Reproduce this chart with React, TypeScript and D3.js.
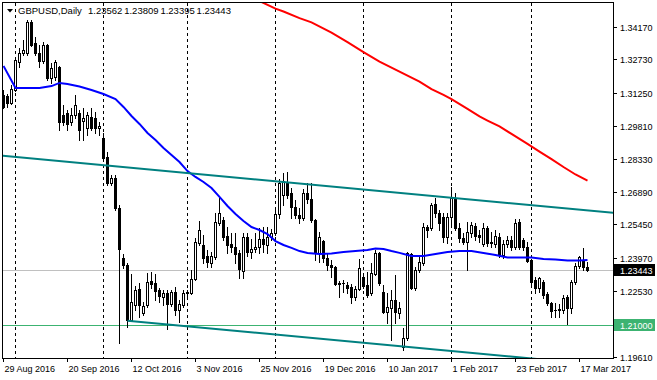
import React from "react";
import * as d3 from "d3";

const symbolTitle = "GBPUSD,Daily";
const headerValues = ["1.23562", "1.23809", "1.23395", "1.23443"];

// Daily OHLC bars, 29 Aug 2016 .. 21 Mar 2017 (147 bars)
const opens = [
  1.3116,1.3111,1.3080,1.3138,1.3261,1.3301,1.3301,1.3438,1.3345,1.3301,
  1.3266,1.3336,1.3191,1.3195,1.3239,1.3027,1.3036,1.2997,1.3027,1.3036,
  1.3001,1.2970,1.3019,1.3014,1.2968,1.2926,1.2842,1.2727,1.2749,1.2617,
  1.2396,1.2366,1.2123,1.2189,1.2260,1.2154,1.2189,1.2295,1.2286,1.2255,
  1.2224,1.2242,1.2193,1.2246,1.2167,1.2189,1.2246,1.2242,1.2304,1.2463,
  1.2454,1.2405,1.2374,1.2401,1.2551,1.2564,1.2494,1.2458,1.2445,1.2419,
  1.2339,1.2489,1.2423,1.2436,1.2445,1.2480,1.2454,1.2489,1.2507,1.2591,
  1.2674,1.2727,1.2683,1.2621,1.2586,1.2573,1.2683,1.2657,1.2564,1.2419,
  1.2471,1.2396,1.2366,1.2357,1.2286,1.2286,1.2277,1.2268,1.2224,1.2260,
  1.2313,1.2277,1.2242,1.2326,1.2419,1.2246,1.2158,1.2176,1.2211,1.2154,
  1.2004,1.2043,1.2414,1.2264,1.2344,1.2374,1.2533,1.2529,1.2635,1.2595,
  1.2577,1.2489,1.2577,1.2661,1.2529,1.2485,1.2467,1.2507,1.2538,1.2498,
  1.2458,1.2529,1.2467,1.2458,1.2489,1.2410,1.2458,1.2476,1.2445,1.2555,
  1.2476,1.2445,1.2388,1.2299,1.2264,1.2291,1.2238,1.2198,1.2169,1.2167,
  1.2167,1.2224,1.2176,1.2291,1.2361,1.2388,1.23562,
];
const highs = [
  1.3138,1.3120,1.3160,1.3283,1.3323,1.3358,1.3447,1.3447,1.3372,1.3336,
  1.3349,1.3341,1.3257,1.3270,1.3244,1.3072,1.3049,1.3058,1.3116,1.3049,
  1.3058,1.3041,1.3058,1.3041,1.2997,1.2948,1.2864,1.2763,1.2763,1.2630,
  1.2414,1.2374,1.2326,1.2273,1.2286,1.2202,1.2330,1.2335,1.2326,1.2264,
  1.2255,1.2255,1.2255,1.2268,1.2211,1.2255,1.2255,1.2344,1.2485,1.2560,
  1.2498,1.2432,1.2423,1.2595,1.2670,1.2577,1.2533,1.2507,1.2507,1.2432,
  1.2507,1.2507,1.2480,1.2507,1.2529,1.2533,1.2533,1.2524,1.2613,1.2745,
  1.2772,1.2776,1.2705,1.2652,1.2617,1.2701,1.2727,1.2727,1.2568,1.2511,
  1.2476,1.2419,1.2388,1.2361,1.2295,1.2299,1.2291,1.2282,1.2273,1.2392,
  1.2330,1.2335,1.2374,1.2432,1.2423,1.2277,1.2242,1.2255,1.2321,1.2202,
  1.2088,1.2423,1.2419,1.2357,1.2401,1.2551,1.2542,1.2639,1.2661,1.2608,
  1.2595,1.2595,1.2710,1.2683,1.2551,1.2507,1.2555,1.2555,1.2551,1.2520,
  1.2551,1.2538,1.2511,1.2520,1.2507,1.2476,1.2494,1.2494,1.2568,1.2568,
  1.2485,1.2467,1.2392,1.2313,1.2313,1.2299,1.2246,1.2202,1.2198,1.2193,
  1.2233,1.2233,1.2299,1.2374,1.2405,1.2441,1.23809,
];
const lows = [
  1.3058,1.3063,1.3076,1.3133,1.3239,1.3292,1.3292,1.3332,1.3292,1.3239,
  1.3257,1.3182,1.3169,1.3182,1.2961,1.2983,1.2961,1.2983,1.3014,1.2917,
  1.2917,1.2939,1.2961,1.2948,1.2939,1.2829,1.2719,1.2719,1.2608,1.2021,
  1.2352,1.2092,1.2118,1.2167,1.2136,1.2145,1.2180,1.2264,1.2211,1.2202,
  1.2189,1.2083,1.2185,1.2145,1.2114,1.2180,1.2229,1.2238,1.2299,1.2454,
  1.2374,1.2357,1.2357,1.2392,1.2542,1.2476,1.2419,1.2423,1.2374,1.2308,
  1.2308,1.2405,1.2396,1.2423,1.2419,1.2423,1.2419,1.2476,1.2498,1.2573,
  1.2630,1.2661,1.2573,1.2573,1.2551,1.2564,1.2639,1.2555,1.2388,1.2379,
  1.2379,1.2344,1.2313,1.2277,1.2224,1.2246,1.2242,1.2198,1.2211,1.2255,
  1.2264,1.2224,1.2233,1.2321,1.2277,1.2154,1.2110,1.2035,1.2110,1.2132,
  1.1991,1.2035,1.2260,1.2255,1.2335,1.2366,1.2489,1.2520,1.2577,1.2520,
  1.2467,1.2463,1.2542,1.2520,1.2467,1.2458,1.2344,1.2489,1.2476,1.2467,
  1.2449,1.2449,1.2445,1.2445,1.2401,1.2396,1.2445,1.2432,1.2436,1.2436,
  1.2432,1.2379,1.2277,1.2242,1.2246,1.2220,1.2189,1.2136,1.2136,1.2136,
  1.2154,1.2105,1.2154,1.2282,1.2352,1.2344,1.23395,
];
const closes = [
  1.3063,1.3080,1.3142,1.3270,1.3301,1.3314,1.3438,1.3336,1.3301,1.3266,
  1.3336,1.3191,1.3235,1.3261,1.2997,1.2997,1.2988,1.3027,1.3072,1.2961,
  1.3014,1.3027,1.2970,1.2970,1.2979,1.2838,1.2727,1.2749,1.2617,1.2436,
  1.2366,1.2123,1.2202,1.2255,1.2189,1.2185,1.2291,1.2282,1.2251,1.2229,
  1.2242,1.2193,1.2246,1.2167,1.2193,1.2242,1.2240,1.2304,1.2467,1.2520,
  1.2396,1.2379,1.2405,1.2555,1.2595,1.2489,1.2454,1.2445,1.2414,1.2348,
  1.2489,1.2423,1.2436,1.2445,1.2480,1.2458,1.2489,1.2507,1.2591,1.2727,
  1.2736,1.2674,1.2621,1.2586,1.2573,1.2683,1.2657,1.2564,1.2419,1.2489,
  1.2396,1.2366,1.2357,1.2282,1.2282,1.2284,1.2264,1.2224,1.2260,1.2352,
  1.2273,1.2233,1.2330,1.2419,1.2286,1.2158,1.2180,1.2211,1.2158,1.2176,
  1.2043,1.2419,1.2264,1.2344,1.2379,1.2533,1.2520,1.2630,1.2595,1.2551,
  1.2489,1.2577,1.2661,1.2529,1.2485,1.2467,1.2511,1.2542,1.2494,1.2489,
  1.2529,1.2463,1.2463,1.2494,1.2410,1.2458,1.2476,1.2445,1.2551,1.2445,
  1.2445,1.2383,1.2291,1.2264,1.2308,1.2233,1.2198,1.2163,1.2165,1.2171,
  1.2220,1.2176,1.2291,1.2361,1.2401,1.2357,1.23443,
];

// Blue moving average (bar index, price)
const blueMaIdx = [0,3,6,9,12,14,16,19,22,25,28,30,32,34,36,38,40,42,44,46,48,50,52,54,56,58,60,62,64,66,68,70,72,74,76,79,82,85,88,91,93,95,97,99,102,105,108,111,114,117,120,123,126,129,132,135,138,141,144,146];
const blueMaVal = [1.3244,1.3147,1.3147,1.3147,1.3155,1.3169,1.3164,1.3153,1.3138,1.3120,1.3098,1.3063,1.3023,1.2988,1.2948,1.2917,1.2882,1.2851,1.2820,1.2780,1.2754,1.2732,1.2705,1.2666,1.2626,1.2591,1.2560,1.2533,1.2520,1.2502,1.2471,1.2454,1.2441,1.2427,1.2419,1.2414,1.2416,1.2423,1.2427,1.2432,1.2438,1.2436,1.2427,1.2419,1.2405,1.2405,1.2414,1.2423,1.2427,1.2427,1.2419,1.2410,1.2399,1.2399,1.2399,1.2392,1.2390,1.2385,1.2385,1.2388];

// Red moving average (bar index, price)
const redMaIdx = [62,64,68,70,74,77,82,86,90,94,99,104,107,110,112,116,119,121,124,127,131,134,137,140,143,146];
const redMaVal = [1.3545,1.3530,1.3497,1.3484,1.3455,1.3436,1.3391,1.3349,1.3305,1.3263,1.3219,1.3175,1.3142,1.3116,1.3097,1.3054,1.3021,1.3003,1.2977,1.2944,1.2900,1.2866,1.2833,1.2798,1.2765,1.2738];

// Channel trend lines (two anchors each: bar index, price)
const upperTrendIdx = [0, 150];
const upperTrendVal = [1.2847, 1.2600];
const lowerTrendIdx = [31, 100];
const lowerTrendVal = [1.2120, 1.2006];

const supportLevel = 1.21;
const supportLabel = "1.21000";
const bidPrice = 1.23443;
const bidLabel = "1.23443";

const monthStartIdx = [3, 25, 46, 68, 90, 112, 132];

const xTickIdx = [0, 16, 32, 48, 64, 80, 96, 112, 128, 144];
const xTickLabels = ["29 Aug 2016", "20 Sep 2016", "12 Oct 2016", "3 Nov 2016", "25 Nov 2016", "19 Dec 2016", "10 Jan 2017", "1 Feb 2017", "23 Feb 2017", "17 Mar 2017"];

const yTickVals = [1.3417, 1.3273, 1.3125, 1.2981, 1.2833, 1.2689, 1.2545, 1.2397, 1.2253, 1.1961];
const yTickLabels = ["1.34170", "1.32730", "1.31250", "1.29810", "1.28330", "1.26890", "1.25450", "1.23970", "1.22530", "1.19610"];

export default function App() {
  const W = 657, H = 380;
  const pl = 3, pr = 613, pt = 3, pb = 358;
  const x = d3.scaleLinear().domain([0, 1]).range([3.5, 7.5]);
  const y = d3.scaleLinear().domain([1.1961, 1.3417]).range([356.7, 26.7]);
  const font = "'Liberation Sans', Arial, sans-serif";

  const line = d3.line<[number, number]>().x((d) => x(d[0])).y((d) => y(d[1]));
  const bluePts: [number, number][] = blueMaIdx.map((i, k) => [i, blueMaVal[k]]);
  const redPts: [number, number][] = redMaIdx.map((i, k) => [i, redMaVal[k]]);

  const trendAt = (idx: number[], val: number[], i: number) =>
    val[0] + ((val[1] - val[0]) * (i - idx[0])) / (idx[1] - idx[0]);
  const iLeft = x.invert(pl - 2);
  const iRight = x.invert(pr + 2);
  const upperPts: [number, number][] = [
    [iLeft, trendAt(upperTrendIdx, upperTrendVal, iLeft)],
    [iRight, trendAt(upperTrendIdx, upperTrendVal, iRight)],
  ];
  const lowerPts: [number, number][] = [
    [lowerTrendIdx[0], lowerTrendVal[0]],
    [iRight, trendAt(lowerTrendIdx, lowerTrendVal, iRight)],
  ];

  const candles = opens.map((o, i) => {
    const c = closes[i];
    const cx = x(i);
    const hy = Math.round(y(highs[i]));
    const ly = Math.round(y(lows[i]));
    const top = Math.round(y(Math.max(o, c)));
    const bot = Math.round(y(Math.min(o, c)));
    const bull = c >= o;
    return (
      <g key={i}>
        <rect x={cx - 0.5} y={hy} width={1} height={ly - hy + 1} fill="#000" />
        {bull ? (
          <rect x={cx - 1} y={top + 0.5} width={2} height={Math.max(0, bot - top)} fill="#fff" stroke="#000" strokeWidth={1} />
        ) : (
          <rect x={cx - 1.5} y={top} width={3} height={bot - top + 1} fill="#000" />
        )}
      </g>
    );
  });

  const bidY = Math.round(y(bidPrice)) + 0.5;
  const supY = Math.round(y(supportLevel)) + 0.5;

  return (
    <svg width={W} height={H} style={{ position: "absolute", left: 0, top: 0, background: "#fff" }} fontFamily={font}>
      <defs>
        <clipPath id="plot">
          <rect x={pl} y={pt} width={pr - pl} height={pb - pt} />
        </clipPath>
      </defs>
      <rect x={0} y={0} width={W} height={H} fill="#fff" />
      <g clipPath="url(#plot)" shapeRendering="crispEdges">
        {monthStartIdx.map((i) => (
          <line key={i} x1={x(i)} x2={x(i)} y1={pt} y2={pb} stroke="#000" strokeWidth={1} strokeDasharray="3,3" />
        ))}
        <line x1={pl} x2={pr} y1={bidY} y2={bidY} stroke="#c0c0c0" strokeWidth={1} />
        <line x1={pl} x2={pr} y1={supY} y2={supY} stroke="#3cb371" strokeWidth={1} />
        {candles}
      </g>
      <g clipPath="url(#plot)" fill="none" strokeWidth={2}>
        <path d={line(bluePts) || ""} stroke="#0000ff" />
        <path d={line(redPts) || ""} stroke="#ff0000" />
        <path d={line(upperPts) || ""} stroke="#008080" />
        <path d={line(lowerPts) || ""} stroke="#008080" />
      </g>
      {/* frame */}
      <rect x={2.5} y={2.5} width={611} height={356} fill="none" stroke="#000" strokeWidth={1} shapeRendering="crispEdges" />
      {/* header */}
      <path d="M7,9 L13,9 L10,12.5 Z" fill="#000" />
      <text x={18} y={14} fontSize={9.5} fill="#000">{symbolTitle}</text>
      {headerValues.map((v, k) => (
        <text key={k} x={88 + k * 36.2} y={14} fontSize={9.5} fill="#000">{v}</text>
      ))}
      {/* y axis */}
      {yTickVals.map((v, k) => {
        const ty = Math.round(y(v)) + 0.5;
        return (
          <g key={k}>
            <line x1={613} x2={617} y1={ty} y2={ty} stroke="#000" shapeRendering="crispEdges" />
            <text x={620} y={ty + 3} fontSize={9} fill="#000">{yTickLabels[k]}</text>
          </g>
        );
      })}
      <rect x={614} y={bidY - 6.5} width={41} height={12} fill="#000" />
      <text x={620} y={bidY + 3} fontSize={9} fill="#fff">{bidLabel}</text>
      <rect x={614} y={supY - 6.5} width={41} height={12} fill="#3cb371" />
      <text x={620} y={supY + 3} fontSize={9} fill="#fff">{supportLabel}</text>
      {/* x axis */}
      {xTickIdx.map((i, k) => {
        const tx = Math.round(x(i)) - 0.5;
        return (
          <g key={k}>
            <line x1={tx} x2={tx} y1={358} y2={362} stroke="#000" shapeRendering="crispEdges" />
            <text x={tx + 1} y={372} fontSize={9} fill="#000">{xTickLabels[k]}</text>
          </g>
        );
      })}
    </svg>
  );
}
